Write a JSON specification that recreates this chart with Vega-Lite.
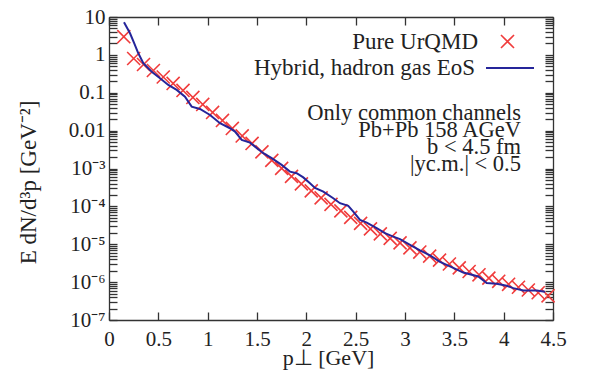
{
 "$schema": "https://vega.github.io/schema/vega-lite/v6.json",
 "width": 444, "height": 303,
 "autosize": "none",
 "padding": {"left": 109, "top": 17, "right": 36, "bottom": 57},
 "config": {
  "font": "Liberation Serif",
  "view": {"stroke": null},
  "axis": {"domainColor": "#333", "domainWidth": 1.3, "tickColor": "#333", "tickWidth": 1.3, "labelColor": "#222", "labelFont": "Liberation Serif", "labelFontSize": 21, "titleFont": "Liberation Serif", "titleFontSize": 22, "titleFontWeight": "normal", "titleColor": "#222", "grid": false, "labelOverlap": false, "labelBound": false, "labelFlush": false},
  "legend": {"labelFont": "Liberation Serif", "labelFontSize": 23, "labelColor": "#222", "labelLimit": 400, "padding": 0, "rowPadding": 0}
 },
 "title": {
  "text": ["Only common channels", "Pb+Pb 158 AGeV", "b < 4.5 fm", "|yc.m.| < 0.5"],
  "orient": "top", "anchor": "end", "frame": "group", "baseline": "top",
  "offset": -86, "dy": 83, "dx": -32, "fontSize": 22.5, "fontWeight": "normal",
  "font": "Liberation Serif", "color": "#222", "lineHeight": 17
 },
 "data": {"values": [
  {"model": "Pure UrQMD", "p": 0.15, "v": 3.02},
  {"model": "Pure UrQMD", "p": 0.25, "v": 0.804},
  {"model": "Pure UrQMD", "p": 0.35, "v": 0.558},
  {"model": "Pure UrQMD", "p": 0.45, "v": 0.387},
  {"model": "Pure UrQMD", "p": 0.55, "v": 0.261},
  {"model": "Pure UrQMD", "p": 0.65, "v": 0.176},
  {"model": "Pure UrQMD", "p": 0.75, "v": 0.115},
  {"model": "Pure UrQMD", "p": 0.85, "v": 0.0752},
  {"model": "Pure UrQMD", "p": 0.95, "v": 0.0491},
  {"model": "Pure UrQMD", "p": 1.05, "v": 0.0302},
  {"model": "Pure UrQMD", "p": 1.15, "v": 0.01858},
  {"model": "Pure UrQMD", "p": 1.25, "v": 0.01143},
  {"model": "Pure UrQMD", "p": 1.35, "v": 0.00724},
  {"model": "Pure UrQMD", "p": 1.45, "v": 0.00459},
  {"model": "Pure UrQMD", "p": 1.55, "v": 0.00274},
  {"model": "Pure UrQMD", "p": 1.65, "v": 0.001637},
  {"model": "Pure UrQMD", "p": 1.75, "v": 0.001007},
  {"model": "Pure UrQMD", "p": 1.85, "v": 0.000619},
  {"model": "Pure UrQMD", "p": 1.95, "v": 0.000393},
  {"model": "Pure UrQMD", "p": 2.05, "v": 0.000256},
  {"model": "Pure UrQMD", "p": 2.15, "v": 0.0001675},
  {"model": "Pure UrQMD", "p": 2.25, "v": 0.000113},
  {"model": "Pure UrQMD", "p": 2.35, "v": 7.6e-5},
  {"model": "Pure UrQMD", "p": 2.45, "v": 5.13e-5},
  {"model": "Pure UrQMD", "p": 2.55, "v": 3.56e-5},
  {"model": "Pure UrQMD", "p": 2.65, "v": 2.55e-5},
  {"model": "Pure UrQMD", "p": 2.75, "v": 1.88e-5},
  {"model": "Pure UrQMD", "p": 2.85, "v": 1.43e-5},
  {"model": "Pure UrQMD", "p": 2.95, "v": 1.089e-5},
  {"model": "Pure UrQMD", "p": 3.05, "v": 8.04e-6},
  {"model": "Pure UrQMD", "p": 3.15, "v": 6.22e-6},
  {"model": "Pure UrQMD", "p": 3.25, "v": 4.85e-6},
  {"model": "Pure UrQMD", "p": 3.35, "v": 3.8e-6},
  {"model": "Pure UrQMD", "p": 3.45, "v": 3.01e-6},
  {"model": "Pure UrQMD", "p": 3.55, "v": 2.38e-6},
  {"model": "Pure UrQMD", "p": 3.65, "v": 1.91e-6},
  {"model": "Pure UrQMD", "p": 3.75, "v": 1.56e-6},
  {"model": "Pure UrQMD", "p": 3.85, "v": 1.276e-6},
  {"model": "Pure UrQMD", "p": 3.95, "v": 1.05e-6},
  {"model": "Pure UrQMD", "p": 4.05, "v": 8.75e-7},
  {"model": "Pure UrQMD", "p": 4.15, "v": 7.33e-7},
  {"model": "Pure UrQMD", "p": 4.25, "v": 6.19e-7},
  {"model": "Pure UrQMD", "p": 4.35, "v": 5.25e-7},
  {"model": "Pure UrQMD", "p": 4.45, "v": 4.35e-7},
  {"model": "Hybrid, hadron gas EoS", "p": 0.152, "v": 7.24},
  {"model": "Hybrid, hadron gas EoS", "p": 0.213, "v": 3.72},
  {"model": "Hybrid, hadron gas EoS", "p": 0.256, "v": 2.02},
  {"model": "Hybrid, hadron gas EoS", "p": 0.297, "v": 1.1},
  {"model": "Hybrid, hadron gas EoS", "p": 0.348, "v": 0.6},
  {"model": "Hybrid, hadron gas EoS", "p": 0.433, "v": 0.36},
  {"model": "Hybrid, hadron gas EoS", "p": 0.517, "v": 0.241},
  {"model": "Hybrid, hadron gas EoS", "p": 0.601, "v": 0.161},
  {"model": "Hybrid, hadron gas EoS", "p": 0.686, "v": 0.1186},
  {"model": "Hybrid, hadron gas EoS", "p": 0.77, "v": 0.0789},
  {"model": "Hybrid, hadron gas EoS", "p": 0.838, "v": 0.043},
  {"model": "Hybrid, hadron gas EoS", "p": 0.922, "v": 0.0374},
  {"model": "Hybrid, hadron gas EoS", "p": 1.024, "v": 0.0259},
  {"model": "Hybrid, hadron gas EoS", "p": 1.125, "v": 0.01567},
  {"model": "Hybrid, hadron gas EoS", "p": 1.226, "v": 0.01156},
  {"model": "Hybrid, hadron gas EoS", "p": 1.277, "v": 0.00942},
  {"model": "Hybrid, hadron gas EoS", "p": 1.345, "v": 0.00569},
  {"model": "Hybrid, hadron gas EoS", "p": 1.429, "v": 0.00482},
  {"model": "Hybrid, hadron gas EoS", "p": 1.48, "v": 0.00378},
  {"model": "Hybrid, hadron gas EoS", "p": 1.564, "v": 0.00254},
  {"model": "Hybrid, hadron gas EoS", "p": 1.649, "v": 0.001871},
  {"model": "Hybrid, hadron gas EoS", "p": 1.75, "v": 0.001245},
  {"model": "Hybrid, hadron gas EoS", "p": 1.834, "v": 0.000828},
  {"model": "Hybrid, hadron gas EoS", "p": 1.902, "v": 0.000752},
  {"model": "Hybrid, hadron gas EoS", "p": 1.969, "v": 0.000582},
  {"model": "Hybrid, hadron gas EoS", "p": 2.037, "v": 0.000405},
  {"model": "Hybrid, hadron gas EoS", "p": 2.088, "v": 0.000308},
  {"model": "Hybrid, hadron gas EoS", "p": 2.172, "v": 0.000246},
  {"model": "Hybrid, hadron gas EoS", "p": 2.273, "v": 0.0001644},
  {"model": "Hybrid, hadron gas EoS", "p": 2.341, "v": 0.0001213},
  {"model": "Hybrid, hadron gas EoS", "p": 2.425, "v": 0.000103},
  {"model": "Hybrid, hadron gas EoS", "p": 2.476, "v": 7.29e-5},
  {"model": "Hybrid, hadron gas EoS", "p": 2.544, "v": 4.41e-5},
  {"model": "Hybrid, hadron gas EoS", "p": 2.612, "v": 3.74e-5},
  {"model": "Hybrid, hadron gas EoS", "p": 2.713, "v": 2.66e-5},
  {"model": "Hybrid, hadron gas EoS", "p": 2.797, "v": 1.96e-5},
  {"model": "Hybrid, hadron gas EoS", "p": 2.881, "v": 1.596e-5},
  {"model": "Hybrid, hadron gas EoS", "p": 2.949, "v": 1.365e-5},
  {"model": "Hybrid, hadron gas EoS", "p": 3.051, "v": 9.64e-6},
  {"model": "Hybrid, hadron gas EoS", "p": 3.152, "v": 6.9e-6},
  {"model": "Hybrid, hadron gas EoS", "p": 3.253, "v": 5.09e-6},
  {"model": "Hybrid, hadron gas EoS", "p": 3.355, "v": 3.44e-6},
  {"model": "Hybrid, hadron gas EoS", "p": 3.489, "v": 2.38e-6},
  {"model": "Hybrid, hadron gas EoS", "p": 3.591, "v": 1.79e-6},
  {"model": "Hybrid, hadron gas EoS", "p": 3.743, "v": 1.406e-6},
  {"model": "Hybrid, hadron gas EoS", "p": 3.828, "v": 9.42e-7},
  {"model": "Hybrid, hadron gas EoS", "p": 3.929, "v": 9.02e-7},
  {"model": "Hybrid, hadron gas EoS", "p": 4.031, "v": 7.98e-7},
  {"model": "Hybrid, hadron gas EoS", "p": 4.098, "v": 6.95e-7},
  {"model": "Hybrid, hadron gas EoS", "p": 4.199, "v": 6.0e-7},
  {"model": "Hybrid, hadron gas EoS", "p": 4.335, "v": 6.0e-7},
  {"model": "Hybrid, hadron gas EoS", "p": 4.419, "v": 5.55e-7}
 ]},
 "layer": [
  {
   "transform": [{"filter": "datum.model === 'Pure UrQMD'"}],
   "mark": {"type": "point", "shape": "M-1,-1L1,1M-1,1L1,-1", "filled": false, "size": 170, "strokeWidth": 1.6, "opacity": 1},
   "encoding": {
    "x": {"field": "p", "type": "quantitative", "scale": {"domain": [0, 4.5], "nice": false, "zero": false},
     "axis": {"orient": "bottom", "values": [0, 0.5, 1, 1.5, 2, 2.5, 3, 3.5, 4, 4.5], "format": "~g", "tickSize": -8, "labelPadding": 16.4, "title": "p⊥ [GeV]", "titleFontSize": 22, "titleX": 219, "titleY": 44, "titleBaseline": "alphabetic", "titleAlign": "center"}},
    "y": {"field": "v", "type": "quantitative", "scale": {"type": "log", "domain": [1e-7, 10], "nice": false},
     "axis": {"orient": "left", "values": [1e-7,2e-7,3e-7,4e-7,5e-7,6e-7,7e-7,8e-7,9e-7,1e-6,2e-6,3e-6,4e-6,5e-6,6e-6,7e-6,8e-6,9e-6,1e-5,2e-5,3e-5,4e-5,5e-5,6e-5,7e-5,8e-5,9e-5,1e-4,2e-4,3e-4,4e-4,5e-4,6e-4,7e-4,8e-4,9e-4,0.001,0.002,0.003,0.004,0.005,0.006,0.007,0.008,0.009,0.01,0.02,0.03,0.04,0.05,0.06,0.07,0.08,0.09,0.1,0.2,0.3,0.4,0.5,0.6,0.7,0.8,0.9,1,2,3,4,5,6,7,8,9,10],
      "labelExpr": "abs(log(datum.value)/LN10 - round(log(datum.value)/LN10)) > 0.01 ? '' : (datum.value >= 0.01 ? format(datum.value, '') : '10⁻' + ['','','','³','⁴','⁵','⁶','⁷'][round(-log(datum.value)/LN10)])",
      "tickSize": -8, "labelPadding": 12,
      "encode": {"ticks": {"update": {"x2": {"signal": "abs(log(datum.value)/LN10 - round(log(datum.value)/LN10)) < 0.01 ? 8 : 4"}}}},
      "title": "E dN/d³p [GeV⁻²]", "titleAngle": -90, "titleX": -81, "titleY": 165, "titleAlign": "center", "titleBaseline": "middle", "titleFontSize": 23}},
    "color": {"field": "model", "type": "nominal",
     "scale": {"domain": ["Pure UrQMD"], "range": ["#f03c3c"]},
     "legend": {"orient": "none", "legendX": 387, "legendY": 13, "title": null, "labelAlign": "right", "labelOffset": -41, "symbolSize": 170, "symbolStrokeWidth": 1.6}}
   }
  },
  {
   "transform": [{"filter": "datum.model !== 'Pure UrQMD'"}],
   "mark": {"type": "line", "strokeWidth": 2},
   "encoding": {
    "x": {"field": "p", "type": "quantitative", "scale": {"domain": [0, 4.5], "nice": false, "zero": false},
     "axis": {"orient": "top", "values": [0, 0.5, 1, 1.5, 2, 2.5, 3, 3.5, 4, 4.5], "labels": false, "tickSize": -8, "title": null}},
    "y": {"field": "v", "type": "quantitative", "scale": {"type": "log", "domain": [1e-7, 10], "nice": false},
     "axis": {"orient": "right", "values": [1e-7,2e-7,3e-7,4e-7,5e-7,6e-7,7e-7,8e-7,9e-7,1e-6,2e-6,3e-6,4e-6,5e-6,6e-6,7e-6,8e-6,9e-6,1e-5,2e-5,3e-5,4e-5,5e-5,6e-5,7e-5,8e-5,9e-5,1e-4,2e-4,3e-4,4e-4,5e-4,6e-4,7e-4,8e-4,9e-4,0.001,0.002,0.003,0.004,0.005,0.006,0.007,0.008,0.009,0.01,0.02,0.03,0.04,0.05,0.06,0.07,0.08,0.09,0.1,0.2,0.3,0.4,0.5,0.6,0.7,0.8,0.9,1,2,3,4,5,6,7,8,9,10],
      "labels": false, "tickSize": -8, "title": null,
      "encode": {"ticks": {"update": {"x2": {"signal": "abs(log(datum.value)/LN10 - round(log(datum.value)/LN10)) < 0.01 ? -8 : -4"}}}}}},
    "stroke": {"field": "model", "type": "nominal",
     "scale": {"domain": ["Hybrid, hadron gas EoS"], "range": ["#25259a"]},
     "legend": {"orient": "none", "legendX": 376, "legendY": 26, "title": null, "labelAlign": "right", "labelOffset": -60, "symbolType": "stroke", "symbolSize": 2304, "symbolStrokeWidth": 2}}
   }
  }
 ],
 "resolve": {"axis": {"x": "independent", "y": "independent"}}
}
